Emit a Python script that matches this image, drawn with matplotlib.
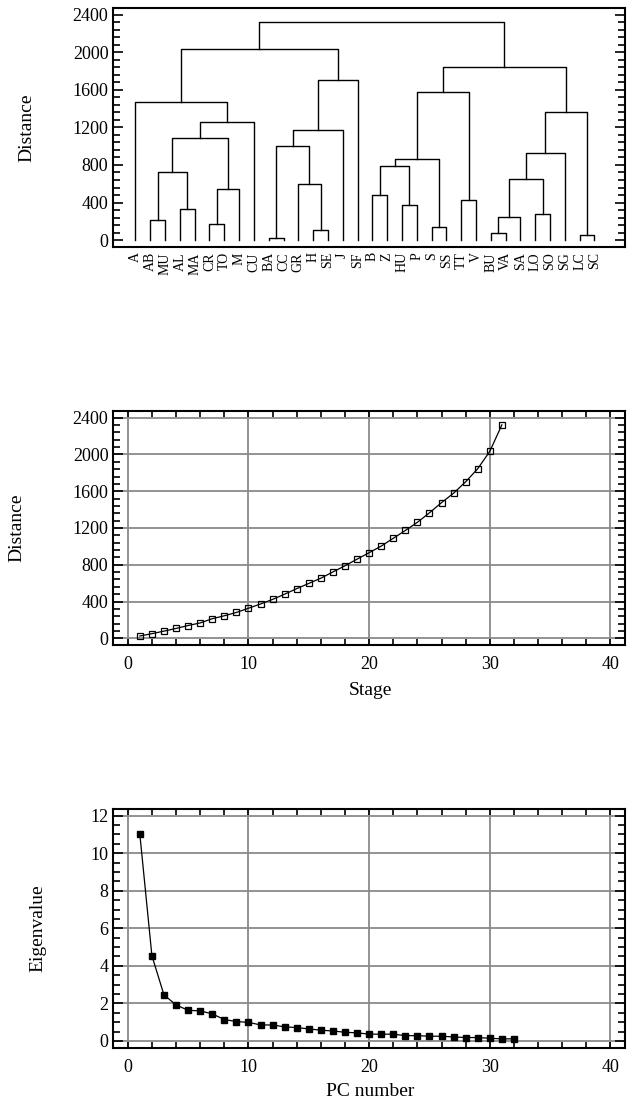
import matplotlib
matplotlib.use('Agg')
import matplotlib.pyplot as plt
from matplotlib.ticker import MultipleLocator

plt.rcParams['font.family'] = ['Liberation Serif', 'DejaVu Serif']

# 叶子节点（树状图底部标签）
leaves = ['A', 'AB', 'MU', 'AL', 'MA', 'CR', 'TO', 'M', 'CU', 'BA', 'CC', 'GR', 'H', 'SE', 'J', 'SF',
          'B', 'Z', 'HU', 'P', 'S', 'SS', 'TT', 'V', 'BU', 'VA', 'SA', 'LO', 'SO', 'SG', 'LC', 'SC']

# 合并步骤：左、右（叶子名或 '#k' 表示第 k 次合并结果）
merge_left = ['BA', 'LC', 'BU', 'H', 'S', 'CR', 'AB', '#2', 'LO', 'AL', 'HU', 'TT', 'B', '#5', 'GR', '#7',
              '#6', '#12', '#17', '#15', '#0', '#16', '#20', '#21', '#19', 'A', '#18', '#22', '#26', '#25', '#29']
merge_right = ['CC', 'SC', 'VA', 'SE', 'SS', 'TO', 'MU', 'SA', 'SO', 'MA', 'P', 'V', 'Z', 'M', '#3', '#8',
               '#9', '#10', '#4', 'SG', '#14', '#13', 'J', 'CU', '#1', '#23', '#11', 'SF', '#24', '#27', '#28']
merge_height = [25, 50, 78, 107, 139, 167, 213, 245, 281, 327, 373, 423, 480, 540, 597, 654,
                722, 789, 861, 931, 1003, 1088, 1173, 1262, 1365, 1476, 1579, 1703, 1845, 2034, 2322]

# 主成分特征值
eigenvalues = [11.02, 4.54, 2.45, 1.92, 1.63, 1.60, 1.44, 1.14, 1.03, 0.99, 0.85, 0.85, 0.75, 0.71,
               0.64, 0.57, 0.53, 0.46, 0.43, 0.36, 0.36, 0.36, 0.28, 0.28, 0.25, 0.25, 0.21, 0.18,
               0.18, 0.14, 0.11, 0.11]

GRID = '#8a8a8a'
TICK_FS = 13
LABEL_FS = 14


def style_axes(ax, ymajor, yminor):
    """设置边框与刻度样式"""
    for s in ax.spines.values():
        s.set_linewidth(1.5)
    ax.yaxis.set_major_locator(MultipleLocator(ymajor))
    ax.yaxis.set_minor_locator(MultipleLocator(yminor))
    ax.tick_params(axis='y', which='both', direction='in', left=True, right=True,
                   labelsize=TICK_FS, width=1.2)
    ax.tick_params(axis='y', which='major', length=7)
    ax.tick_params(axis='y', which='minor', length=5)


fig = plt.figure(figsize=(6.29, 11.02), dpi=100)

# ---------- 树状图 ----------
ax1 = fig.add_axes([0.1801, 0.7762, 0.8135, 0.2163])
pos = {name: float(i) for i, name in enumerate(leaves)}
hgt = {name: 0.0 for name in leaves}
for k, (l, r, h) in enumerate(zip(merge_left, merge_right, merge_height)):
    xl, xr = pos[l], pos[r]
    ax1.plot([xl, xl, xr, xr], [hgt[l], h, h, hgt[r]], color='black', lw=1.0)
    pos['#%d' % k] = (xl + xr) / 2
    hgt['#%d' % k] = h

ax1.set_xlim(-1.5, 33.07)
ax1.set_ylim(-70, 2470)
style_axes(ax1, 400, 80)
ax1.set_xticks(range(len(leaves)))
ax1.set_xticklabels(leaves, rotation=90, fontsize=10)
ax1.tick_params(axis='x', length=0, pad=4)
ax1.set_ylabel('Distance', fontsize=LABEL_FS)
ax1.yaxis.set_label_coords(-0.153, 0.5)

# ---------- 合并距离 ----------
stages = list(range(1, len(merge_height) + 1))
ax2 = fig.add_axes([0.1801, 0.4147, 0.8135, 0.2126])
ax2.plot(stages, merge_height, color='black', lw=0.9, marker='s', ms=4.2,
         mfc='none', mec='black', mew=0.9, zorder=3)
ax2.set_xlim(-1.2, 41.2)
ax2.set_ylim(-73, 2476)
style_axes(ax2, 400, 80)
ax2.xaxis.set_major_locator(MultipleLocator(10))
ax2.xaxis.set_minor_locator(MultipleLocator(2))
ax2.tick_params(axis='x', which='both', direction='in', top=True, bottom=True,
                labelsize=TICK_FS, width=1.2, length=4, pad=8)
ax2.grid(True, which='major', color=GRID, lw=1.3)
ax2.set_axisbelow(True)
ax2.set_xlabel('Stage', fontsize=LABEL_FS)
ax2.xaxis.set_label_coords(0.5017, -0.157)
ax2.set_ylabel('Distance', fontsize=LABEL_FS)
ax2.yaxis.set_label_coords(-0.1726, 0.5)

# ---------- 碎石图 ----------
pcs = list(range(1, len(eigenvalues) + 1))
ax3 = fig.add_axes([0.1801, 0.0493, 0.8135, 0.2163])
ax3.plot(pcs, eigenvalues, color='black', lw=0.9, marker='s', ms=4.8,
         mfc='black', mec='black', zorder=3)
ax3.set_xlim(-1.2, 41.2)
ax3.set_ylim(-0.36, 12.34)
style_axes(ax3, 2, 0.5)
ax3.xaxis.set_major_locator(MultipleLocator(10))
ax3.xaxis.set_minor_locator(MultipleLocator(2))
ax3.tick_params(axis='x', which='both', direction='in', top=True, bottom=True,
                labelsize=TICK_FS, width=1.2, length=4, pad=8)
ax3.grid(True, which='major', color=GRID, lw=1.3)
ax3.set_axisbelow(True)
ax3.set_xlabel('PC number', fontsize=LABEL_FS)
ax3.xaxis.set_label_coords(0.5017, -0.147)
ax3.set_ylabel('Eigenvalue', fontsize=LABEL_FS)
ax3.yaxis.set_label_coords(-0.130, 0.5)

fig.savefig('out.png', dpi=100)
